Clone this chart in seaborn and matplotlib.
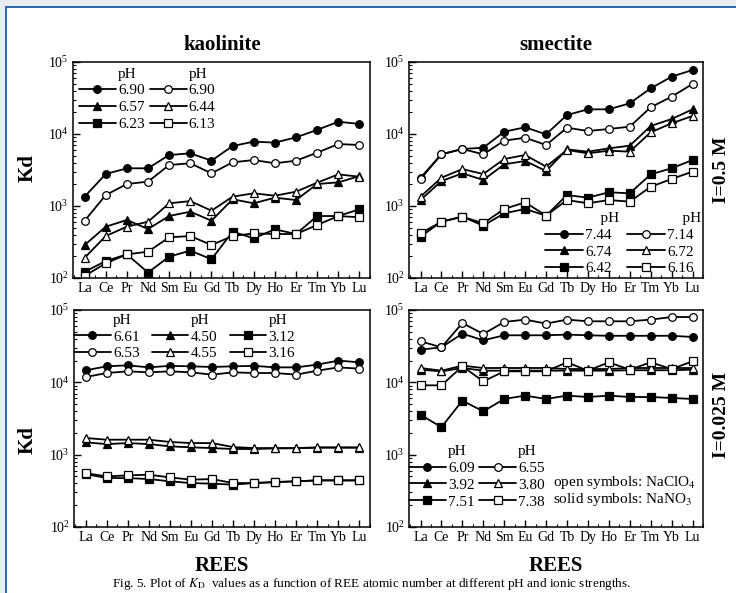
import numpy as np
import pandas as pd
import seaborn as sns
import matplotlib.pyplot as plt
from matplotlib.patches import Rectangle
from matplotlib.lines import Line2D
from matplotlib.ticker import MultipleLocator

# REE sirasi (x ekseni)
ree = ["La", "Ce", "Pr", "Nd", "Sm", "Eu", "Gd", "Tb", "Dy", "Ho", "Er", "Tm", "Yb", "Lu"]

# kaolinite, I=0.5 M
kao05_c_solid = [1350, 2780, 3340, 3340, 5110, 5390, 4260, 6810, 7830, 7590, 8990, 11400, 14800, 13800]
kao05_c_open = [625, 1420, 2020, 2180, 3710, 3920, 2840, 4040, 4350, 3920, 4260, 5500, 7260, 7030]
kao05_t_solid = [287, 516, 639, 479, 726, 834, 625, 1240, 1090, 1305, 1210, 2020, 2130, 2600]
kao05_t_open = [191, 383, 516, 605, 1090, 1170, 861, 1348, 1500, 1390, 1580, 2110, 2750, 2550]
kao05_s_solid = [122, 172, 213, 119, 198, 240, 182, 440, 356, 475, 408, 726, 726, 900]
kao05_s_open = [107, 160, 213, 232, 367, 383, 287, 383, 417, 408, 408, 545, 726, 697]
kao05_ph = ["6.90", "6.57", "6.23", "6.90", "6.44", "6.13"]

# smectite, I=0.5 M
sme05_c_solid = [2470, 5220, 6190, 6450, 10760, 12390, 9890, 18360, 22000, 22000, 26700, 43100, 62500, 77400]
sme05_c_open = [2370, 5220, 6190, 5220, 8070, 8890, 7030, 12240, 11000, 11730, 12640, 23500, 33000, 49500]
sme05_t_solid = [1210, 2220, 2840, 2300, 3790, 4220, 3060, 6120, 5680, 6320, 6880, 12900, 16150, 22000]
sme05_t_open = [1347, 2470, 3260, 2780, 4490, 5110, 3520, 5990, 5390, 5870, 5680, 10550, 14070, 17800]
sme05_s_solid = [375, 605, 711, 533, 791, 909, 734, 1420, 1305, 1550, 1500, 2750, 3340, 4350]
sme05_s_open = [417, 605, 711, 575, 909, 1125, 734, 1210, 1090, 1210, 1150, 1850, 2370, 3000]
sme05_ph = ["7.44", "6.74", "6.42", "7.14", "6.72", "6.16"]

# kaolinite, I=0.025 M
kao025_c_solid = [14650, 16650, 17180, 16110, 16900, 16650, 16300, 16650, 16900, 16100, 16100, 17580, 19960, 18920]
kao025_c_open = [11840, 13450, 14190, 13740, 14190, 13740, 12770, 13740, 13450, 13450, 12770, 14500, 16100, 15450]
kao025_t_solid = [1480, 1400, 1446, 1400, 1303, 1262, 1233, 1197, 1197, 1220, 1225, 1250, 1250, 1250]
kao025_t_open = [1700, 1610, 1610, 1610, 1500, 1446, 1446, 1274, 1233, 1233, 1233, 1260, 1260, 1260]
kao025_s_solid = [540, 475, 475, 460, 428, 405, 397, 385, 405, 418, 428, 441, 441, 441]
kao025_s_open = [556, 501, 517, 529, 485, 451, 460, 405, 405, 418, 428, 441, 441, 441]
kao025_ph = ["6.61", "6.53", "4.50", "4.55", "3.12", "3.16"]

# smectite, I=0.025 M
sme025_c_solid = [28300, 30480, 47100, 38100, 44700, 44700, 44700, 45700, 44700, 44000, 44000, 44000, 44000, 42400]
sme025_c_open = [36900, 30480, 66000, 46600, 68300, 73600, 64900, 73600, 69800, 69800, 69800, 73600, 80000, 80000]
sme025_t_solid = [14970, 14190, 15780, 14500, 14500, 14500, 14500, 14500, 14500, 14500, 14700, 14700, 14700, 14970]
sme025_t_open = [15780, 14500, 17000, 15780, 15780, 15780, 15780, 15280, 15280, 15280, 15780, 15780, 15780, 15780]
sme025_s_solid = [3560, 2400, 5580, 3970, 5890, 6550, 5890, 6550, 6270, 6550, 6270, 6270, 6080, 5890]
sme025_s_open = [9090, 9090, 16650, 10320, 14190, 14190, 14190, 18900, 14500, 18900, 14970, 18900, 15280, 19500]
sme025_ph = ["6.09", "3.92", "7.51", "6.55", "3.80", "7.38"]

sns.set_theme(style="ticks")
plt.rcParams["font.family"] = ["Liberation Serif", "DejaVu Serif"]
plt.rcParams["mathtext.fontset"] = "stix"
for k in ["text.color", "axes.labelcolor", "xtick.color", "ytick.color", "axes.edgecolor"]:
    plt.rcParams[k] = "black"

W, H = 736, 593
fig = plt.figure(figsize=(W / 100, H / 100), dpi=100)
fig.patch.set_facecolor("#e9edf1")
fig.patches.append(Rectangle((6 / W, -0.02), 1.0, (H - 7) / H + 0.02, transform=fig.transFigure,
                             facecolor="white", edgecolor="#2d66a8", lw=1.4, zorder=-5))


def fx(px):
    return px / W


def fy(py):
    return 1 - py / H


def make_ax(l, t, r, b):
    ax = fig.add_axes([fx(l), fy(b), fx(r) - fx(l), (b - t) / H])
    ax.set_zorder(2)
    return ax


ax_tl = make_ax(73, 62, 370, 278)
ax_tr = make_ax(409, 62, 703, 278)
ax_bl = make_ax(74, 310, 370, 527)
ax_br = make_ax(409, 310, 703, 527)


def draw(ax, series):
    handles = []
    for vals, mk, filled in series:
        df = pd.DataFrame({"REE": ree, "Kd": vals})
        sns.lineplot(data=df, x="REE", y="Kd", ax=ax, color="black", lw=1.3,
                     marker=mk, markersize=5.5,
                     markerfacecolor="black" if filled else "white",
                     markeredgecolor="black", markeredgewidth=0.9)
        handles.append(ax.lines[-1])
    ax.set_yscale("log")
    ax.set_ylim(1e2, 1e5)
    ax.set_xlim(-0.55, 13.5)
    ax.set_xlabel("")
    ax.set_ylabel("")
    ax.xaxis.set_minor_locator(MultipleLocator(0.5))
    ax.tick_params(which="both", direction="in", top=False, right=False, color="black")
    ax.tick_params(which="major", length=5, width=1, labelsize=10, pad=3)
    ax.tick_params(which="minor", length=2.5, width=0.8)
    for sp in ax.spines.values():
        sp.set_linewidth(1.1)
        sp.set_color("black")
    return handles


blank = Line2D([], [], linestyle="none")


def leg(ax, handles, labels, ncol, loc, anchor, hl, cs):
    ax.legend(handles, labels, ncol=ncol, loc=loc, bbox_to_anchor=anchor, frameon=False,
              fontsize=11, handlelength=hl, handletextpad=0.15, columnspacing=cs,
              labelspacing=0.2, borderpad=0.0, borderaxespad=0.0, numpoints=1)


h = draw(ax_tl, [(kao05_c_solid, "o", True), (kao05_t_solid, "^", True), (kao05_s_solid, "s", True),
                 (kao05_c_open, "o", False), (kao05_t_open, "^", False), (kao05_s_open, "s", False)])
leg(ax_tl, [blank, h[0], h[1], h[2], blank, h[3], h[4], h[5]],
    ["pH", kao05_ph[0], kao05_ph[1], kao05_ph[2], "pH", kao05_ph[3], kao05_ph[4], kao05_ph[5]],
    2, "upper left", (0.02, 0.977), 2.4, 0.35)

h = draw(ax_tr, [(sme05_c_solid, "o", True), (sme05_t_solid, "^", True), (sme05_s_solid, "s", True),
                 (sme05_c_open, "o", False), (sme05_t_open, "^", False), (sme05_s_open, "s", False)])
leg(ax_tr, [blank, h[0], h[1], h[2], blank, h[3], h[4], h[5]],
    ["    pH", sme05_ph[0], sme05_ph[1], sme05_ph[2], "    pH", sme05_ph[3], sme05_ph[4], sme05_ph[5]],
    2, "lower right", (0.995, 0.012), 2.5, 0.5)

h = draw(ax_bl, [(kao025_c_solid, "o", True), (kao025_c_open, "o", False),
                 (kao025_t_solid, "^", True), (kao025_t_open, "^", False),
                 (kao025_s_solid, "s", True), (kao025_s_open, "s", False)])
leg(ax_bl, [blank, h[0], h[1], blank, h[2], h[3], blank, h[4], h[5]],
    ["pH", kao025_ph[0], kao025_ph[1], "pH", kao025_ph[2], kao025_ph[3], "pH", kao025_ph[4], kao025_ph[5]],
    3, "upper left", (0.0, 0.985), 2.4, 0.8)

h = draw(ax_br, [(sme025_c_solid, "o", True), (sme025_t_solid, "^", True), (sme025_s_solid, "s", True),
                 (sme025_c_open, "o", False), (sme025_t_open, "^", False), (sme025_s_open, "s", False)])
leg(ax_br, [blank, h[0], h[1], h[2], blank, h[3], h[4], h[5]],
    ["pH", sme025_ph[0], sme025_ph[1], sme025_ph[2], "pH", sme025_ph[3], sme025_ph[4], sme025_ph[5]],
    2, "lower left", (0.0, 0.085), 2.4, 0.3)
ax_br.text(0.49, 0.205, "open symbols: NaClO$_4$", transform=ax_br.transAxes, fontsize=11, va="center")
ax_br.text(0.49, 0.128, "solid symbols: NaNO$_3$", transform=ax_br.transAxes, fontsize=11, va="center")

# basliklar ve eksen yazilari
fig.text(fx(222), fy(45), "kaolinite", ha="center", va="center", fontsize=15, fontweight="bold")
fig.text(fx(556), fy(45), "smectite", ha="center", va="center", fontsize=15, fontweight="bold")
fig.text(fx(28), fy(168), "Kd", ha="center", va="center", rotation=90, fontsize=15, fontweight="bold")
fig.text(fx(28), fy(440), "Kd", ha="center", va="center", rotation=90, fontsize=15, fontweight="bold")
fig.text(fx(722), fy(170), "I=0.5 M", ha="center", va="center", rotation=90, fontsize=14, fontweight="bold")
fig.text(fx(722), fy(415), "I=0.025 M", ha="center", va="center", rotation=90, fontsize=14, fontweight="bold")
fig.text(fx(222), fy(566), "REES", ha="center", va="center", fontsize=15, fontweight="bold")
fig.text(fx(556), fy(566), "REES", ha="center", va="center", fontsize=15, fontweight="bold")
fig.text(fx(372), fy(584), r"Fig. 5. Plot of $K_{\rm D}$  values as a function of REE atomic number at different pH and ionic strengths.",
         ha="center", va="center", fontsize=9.5)

fig.savefig("out.png", dpi=100, facecolor=fig.get_facecolor())
